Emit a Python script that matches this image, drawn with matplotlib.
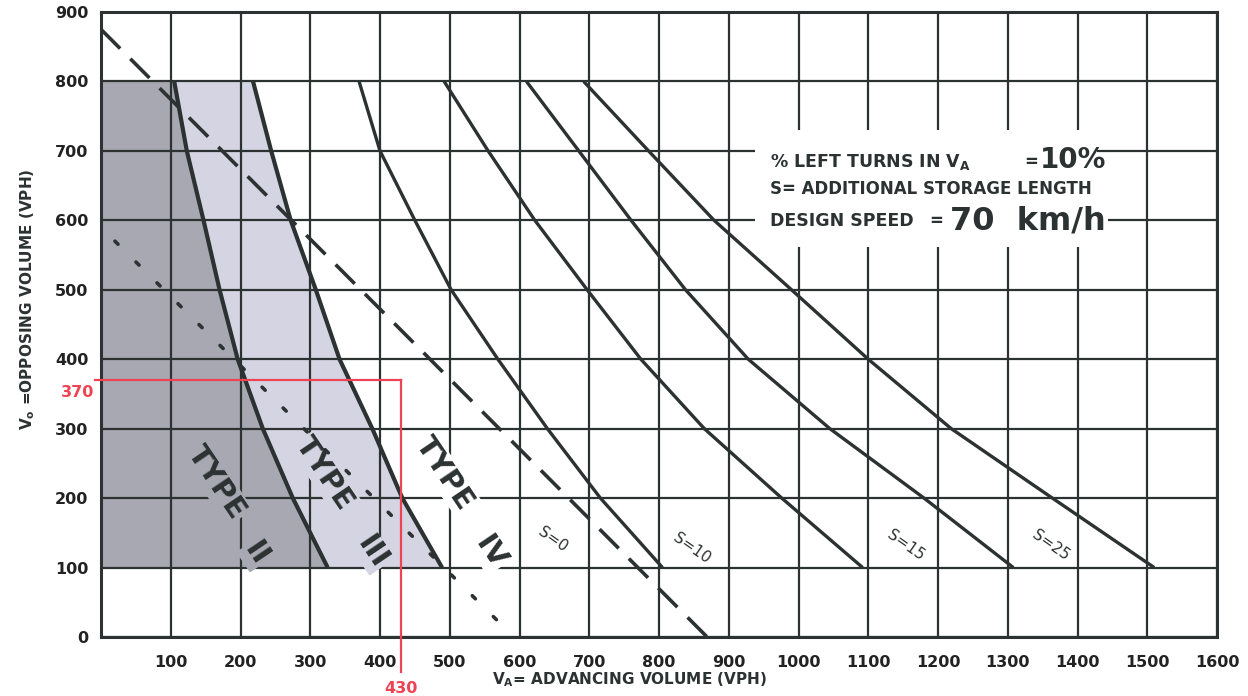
import matplotlib
matplotlib.use("Agg")
import matplotlib.pyplot as plt
from matplotlib.patches import Rectangle

# ---------------- data ----------------
vo_levels = [800, 700, 600, 500, 400, 300, 200, 100]          # opposing volume (VPH)
type2_va = [105, 123, 147, 170, 196, 232, 275, 325]            # Type II / III boundary
type3_va = [218, 244, 272, 308, 342, 389, 432, 489]            # Type III / IV boundary
s0_va = [370, 400, 450, 502, 569, 640, 716, 805]
s10_va = [492, 555, 622, 697, 774, 865, 976, 1092]
s15_va = [610, 685, 760, 838, 928, 1045, 1180, 1308]
s25_va = [692, 785, 879, 990, 1100, 1219, 1364, 1510]
dash_va = [0, 869]
dash_vo = [875, 0]
dot_va = [20, 592]
dot_vo = [570, 0]
x_ticks = list(range(0, 1601, 100))
y_ticks = list(range(0, 901, 100))
x_ticklabels = [""] + [str(v) for v in x_ticks[1:]]
y_ticklabels = [str(v) for v in y_ticks]
s_labels = ["S=0", "S=10", "S=15", "S=25"]
s_label_pos = [(648, 140), (847, 128), (1153, 132), (1361, 132)]
read_va, read_vo = 430, 370

# ---------------- style ----------------
ink = "#2c3131"
dark_fill = "#a8a8b2"
light_fill = "#d4d4e2"
red = "#ee4352"

fig = plt.figure(figsize=(12.48, 6.96), dpi=100)
ax = fig.add_axes([101 / 1248, 59 / 696, 1116 / 1248, 625 / 696])
ax.set_xlim(0, 1600)
ax.set_ylim(0, 900)
ax.set_axisbelow(True)
ax.set_xticks(x_ticks)
ax.set_yticks(y_ticks)
ax.set_xticklabels(x_ticklabels)
ax.set_yticklabels(y_ticklabels)
ax.grid(True, color=ink, lw=1.6)
ax.tick_params(length=0, labelsize=11.5, colors="#222", pad=9)
ax.tick_params(axis="x", pad=13)
for lbl in ax.get_xticklabels() + ax.get_yticklabels():
    lbl.set_fontweight("bold")
for sp in ax.spines.values():
    sp.set_color(ink)
    sp.set_linewidth(2.2)

# shaded regions
ax.fill_betweenx(vo_levels, 0, type2_va, color=dark_fill, lw=0, zorder=0.2)
ax.fill_betweenx(vo_levels, type2_va, type3_va, color=light_fill, lw=0, zorder=0.2)

# curves
for xs in (type2_va, type3_va):
    ax.plot(xs, vo_levels, color=ink, lw=3.0, zorder=3, solid_capstyle="butt",
            solid_joinstyle="round")
for xs in (s0_va, s10_va, s15_va, s25_va):
    ax.plot(xs, vo_levels, color=ink, lw=2.4, zorder=3, solid_capstyle="butt",
            solid_joinstyle="round")
ax.plot(dash_va, dash_vo, color=ink, lw=2.6, ls=(0, (7.5, 4)), zorder=3)
ax.plot(dot_va, dot_vo, color=ink, lw=2.6, ls=(0, (1.2, 7)), zorder=3,
        dash_capstyle="round")

# type labels
type_font = dict(fontsize=21, color=ink, rotation=-56, ha="center", va="center",
                 rotation_mode="anchor", zorder=1.5, family="DejaVu Sans",
                 fontweight="bold")
ax.text(166, 222, "TYPE", bbox=dict(fc=dark_fill, ec="none", pad=1), **type_font)
ax.text(222, 120, "II", bbox=dict(fc=dark_fill, ec="none", pad=1), **type_font)
ax.text(321, 235, "TYPE", bbox=dict(fc=light_fill, ec="none", pad=1), **type_font)
ax.text(389, 122, "III", bbox=dict(fc=light_fill, ec="none", pad=1), **type_font)
ax.text(493, 235, "TYPE", bbox=dict(fc="white", ec="none", pad=1), **type_font)
ax.text(558, 122, "IV", bbox=dict(fc="white", ec="none", pad=1), **type_font)

# S labels
for lab, (sx, sy) in zip(s_labels, s_label_pos):
    ax.text(sx, sy, lab, fontsize=11, color=ink, rotation=-35, ha="center",
            va="center", rotation_mode="anchor", zorder=4)

# notes block
ax.add_patch(Rectangle((938, 562), 490, 168, fc="white", ec="none", zorder=0.8))
note_kw = dict(color=ink, fontweight="bold", va="baseline", ha="left", zorder=4)
ax.text(959, 677, r"% LEFT TURNS IN V$_\mathbf{A}$", fontsize=12.5, **note_kw)
ax.text(1323, 677, "=", fontsize=12, **note_kw)
ax.text(1346, 676, "10%", fontsize=20, **note_kw)
ax.text(959, 638, "S= ADDITIONAL STORAGE LENGTH", fontsize=12, **note_kw)
ax.text(959, 592, "DESIGN SPEED", fontsize=12.5, **note_kw)
ax.text(1188, 592, "=", fontsize=12, **note_kw)
ax.text(1217, 587, "70  km/h", fontsize=23,
        bbox=dict(fc="white", ec="none", pad=2), **note_kw)

# axis titles
ax.text(0.474, -0.069, r"V$_\mathbf{A}$= ADVANCING VOLUME (VPH)", transform=ax.transAxes,
        fontsize=11, fontweight="bold", color=ink, ha="center", va="center")
ax.text(-0.066, 0.54, r"V$_\mathbf{o}$ =OPPOSING VOLUME (VPH)", transform=ax.transAxes,
        fontsize=11, fontweight="bold", color=ink, ha="center", va="center", rotation=90)

# red reading annotation
ax.plot([-8, read_va], [read_vo, read_vo], color=red, lw=1.6, zorder=5, clip_on=False)
ax.plot([read_va, read_va], [read_vo, -50], color=red, lw=1.6, zorder=5, clip_on=False)
ax.text(-33, 352, str(read_vo), color=red, fontsize=11.5, fontweight="bold",
        ha="center", va="center", family="Liberation Sans Narrow", clip_on=False)
ax.text(read_va, -74, str(read_va), color=red, fontsize=11.5, fontweight="bold",
        ha="center", va="center", family="Liberation Sans Narrow", clip_on=False)

fig.savefig("out.png", dpi=100)
